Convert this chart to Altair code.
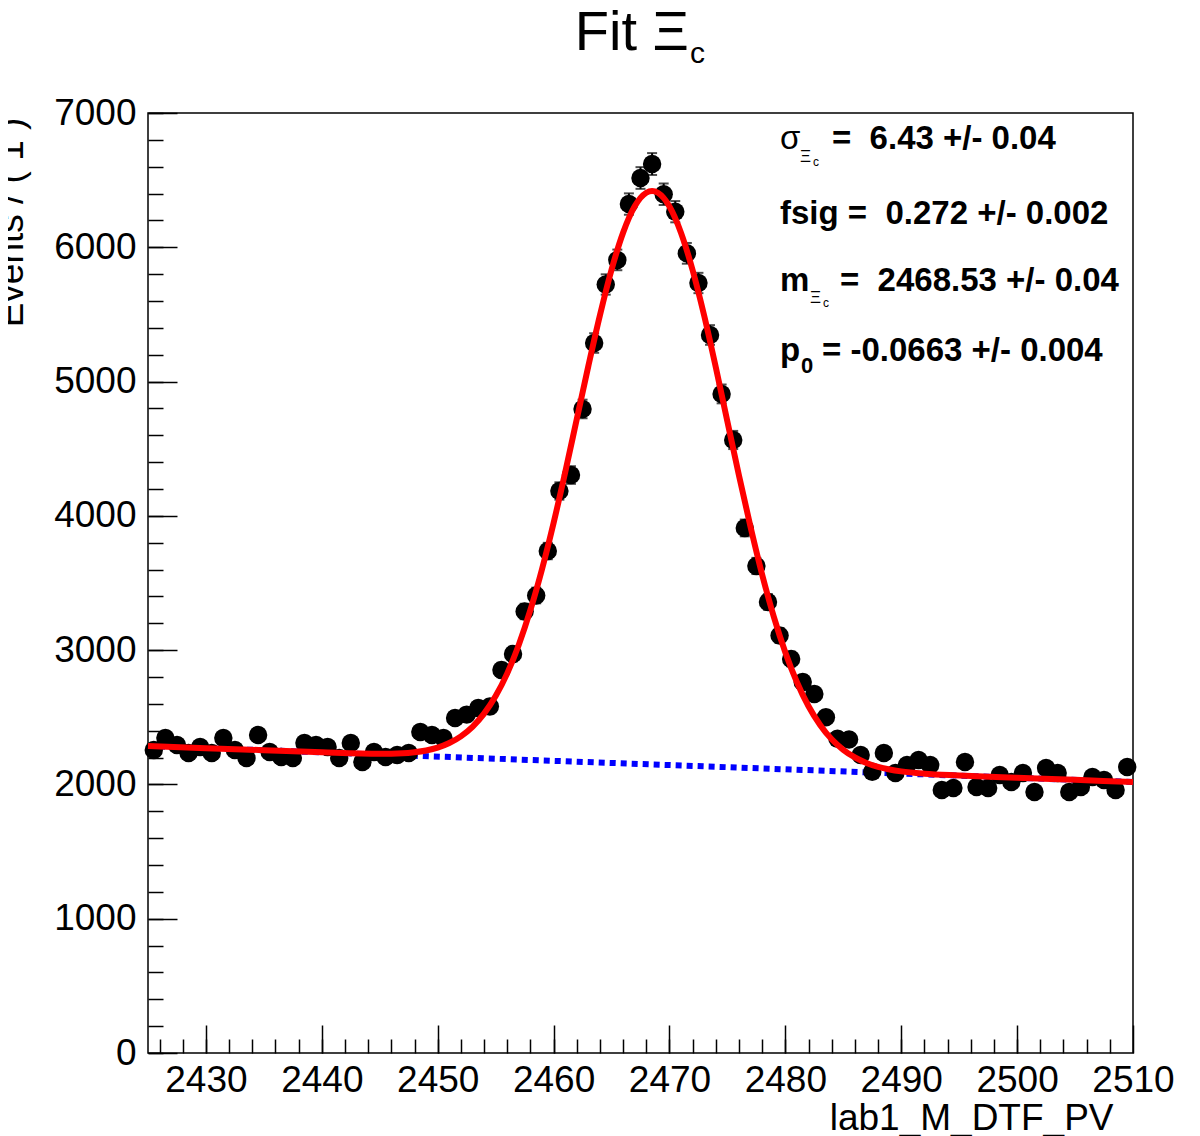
import altair as alt
import pandas as pd

FONT = "Liberation Sans"
NB = "\u00a0"  # keeps the double spaces of the original text

# ---------------- data ----------------
bin_start = 2425          # 85 bins of width 1, 2425 .. 2510
counts = [2256, 2346, 2294, 2234, 2279, 2234, 2346, 2256, 2197, 2368,
          2242, 2204, 2197, 2309, 2294, 2279, 2197, 2309, 2167, 2242,
          2204, 2219, 2234, 2391, 2368, 2346, 2495, 2520, 2569, 2580,
          2852, 2971, 3288, 3407, 3738, 4185, 4304, 4796, 5287, 5723,
          5906, 6322, 6516, 6620, 6395, 6265, 5955, 5734, 5347, 4908,
          4565, 3910, 3627, 3359, 3109, 2934, 2763, 2673, 2500, 2340,
          2335, 2219, 2095, 2234, 2085, 2145, 2182, 2145, 1959, 1973,
          2167, 1981, 1973, 2070, 2018, 2085, 1944, 2122, 2085, 1944,
          1981, 2055, 2033, 1959, 2130]
bin_centers = [bin_start + 0.5 + i for i in range(len(counts))]

# total fit curve (red)
fit_x = [2425, 2430, 2435, 2440, 2445, 2447, 2448, 2449, 2450, 2451,
         2452, 2453, 2454, 2455, 2456, 2457, 2458, 2459, 2460, 2461,
         2462, 2463, 2464, 2465, 2466, 2467, 2468, 2468.5, 2469, 2470,
         2471, 2472, 2473, 2474, 2475, 2476, 2477, 2478, 2479, 2480,
         2481, 2482, 2483, 2484, 2485, 2486, 2487, 2488, 2489, 2490,
         2492, 2495, 2500, 2505, 2510]
fit_y = [2286, 2270, 2255, 2239, 2228, 2232, 2240, 2253, 2274, 2308,
         2358, 2429, 2527, 2658, 2827, 3040, 3299, 3603, 3947, 4324,
         4720, 5116, 5494, 5833, 6109, 6305, 6406, 6419, 6406, 6304,
         6107, 5829, 5489, 5105, 4702, 4300, 3916, 3562, 3250, 2983,
         2761, 2582, 2443, 2336, 2258, 2201, 2160, 2131, 2111, 2097,
         2080, 2067, 2050, 2034, 2018]

# background component (blue dotted)
bkg_x = [2425, 2510]
bkg_y = [2286, 2018]

# axis ticks
x_major = [2430, 2440, 2450, 2460, 2470, 2480, 2490, 2500, 2510]
x_minor = list(range(2426, 2510, 2))
y_major = [0, 1000, 2000, 3000, 4000, 5000, 6000, 7000]
y_minor = list(range(0, 7001, 200))

hist = pd.DataFrame({"x": bin_centers, "n": counts})
fit = pd.DataFrame({"x": fit_x, "y": fit_y})
bkg = pd.DataFrame({"x": bkg_x, "y": bkg_y})
anno = pd.DataFrame({"k": [0]})

W, H = 985, 940
xs = alt.Scale(domain=[2425, 2510], nice=False, zero=False)
ys = alt.Scale(domain=[0, 7000], nice=False, zero=False)

# --- axes: labels outside, ticks inside (ROOT style) ---
ax_x_lab = alt.Axis(orient="bottom", values=x_major, format="d", ticks=False,
                    domain=False, grid=False, labelFontSize=37, labelPadding=9,
                    labelFlush=False, labelOverlap=False, labelColor="black",
                    labelFont=FONT, title="lab1_M_DTF_PV", titleFont=FONT,
                    titleFontSize=37, titleFontWeight="normal", titleColor="black",
                    titleAlign="right", titleX=W - 20, titleY=76,
                    titleBaseline="alphabetic")
ax_y_lab = alt.Axis(orient="left", values=y_major, format="d", ticks=False,
                    domain=False, grid=False, labelFontSize=37, labelPadding=12,
                    labelFlush=False, labelOverlap=False, labelColor="black",
                    labelFont=FONT, title="Events / ( 1 )", titleFont=FONT,
                    titleFontSize=37, titleFontWeight="normal", titleColor="black",
                    titleAngle=270, titleAlign="center", titleBaseline="alphabetic",
                    titleX=-126, titleY=109)
ax_x_maj = alt.Axis(orient="top", offset=-H, values=x_major, labels=False,
                    domain=False, grid=False, tickSize=28, tickWidth=1.5,
                    tickColor="black", title=None)
ax_y_maj = alt.Axis(orient="right", offset=-W, values=y_major, labels=False,
                    domain=False, grid=False, tickSize=29, tickWidth=1.5,
                    tickColor="black", title=None)
ax_x_min = alt.Axis(orient="top", offset=-H, values=x_minor, labels=False,
                    domain=False, grid=False, tickSize=14, tickWidth=1.5,
                    tickColor="black", title=None)
ax_y_min = alt.Axis(orient="right", offset=-W, values=y_minor, labels=False,
                    domain=False, grid=False, tickSize=15, tickWidth=1.5,
                    tickColor="black", title=None)

blue = alt.Chart(bkg).mark_line(color="#0000ff", strokeWidth=6,
                                strokeDash=[6, 5]).encode(
    x=alt.X("x:Q", scale=xs, axis=ax_x_maj),
    y=alt.Y("y:Q", scale=ys, axis=ax_y_maj),
)

points = alt.Chart(hist).mark_circle(size=340, color="black", opacity=1).encode(
    x=alt.X("x:Q", scale=xs, axis=ax_x_lab),
    y=alt.Y("n:Q", scale=ys, axis=ax_y_lab),
)

err_base = alt.Chart(hist).transform_calculate(
    lo="datum.n - sqrt(datum.n)", hi="datum.n + sqrt(datum.n)")
err = err_base.mark_rule(color="black", strokeWidth=2).encode(
    x=alt.X("x:Q", scale=xs, axis=None),
    y=alt.Y("lo:Q", scale=ys, axis=None),
    y2="hi:Q",
)
cap_hi = err_base.mark_tick(color="black", orient="horizontal", size=10,
                            thickness=2).encode(
    x=alt.X("x:Q", scale=xs, axis=None),
    y=alt.Y("hi:Q", scale=ys, axis=None),
)
cap_lo = err_base.mark_tick(color="black", orient="horizontal", size=10,
                            thickness=2).encode(
    x=alt.X("x:Q", scale=xs, axis=None),
    y=alt.Y("lo:Q", scale=ys, axis=None),
)

red = alt.Chart(fit).mark_line(color="#ff0000", strokeWidth=6,
                               interpolate="monotone").encode(
    x=alt.X("x:Q", scale=xs, axis=ax_x_min),
    y=alt.Y("y:Q", scale=ys, axis=ax_y_min),
)


def txt(s, x, y, size, weight="normal", align="left"):
    return alt.Chart(anno).mark_text(
        text=s, fontSize=size, fontWeight=weight, align=align,
        baseline="alphabetic", font=FONT, color="black").encode(
        x=alt.value(x), y=alt.value(y))


texts = [
    # chart title  "Fit Ξ_c"
    txt("Fit Ξ", 541, -63, 56, align="right"),
    txt("c", 542, -50, 30),
    # fit parameter box
    txt("σ", 632, 36, 33),
    txt("Ξ", 652, 49, 17),
    txt("c", 665, 53, 12),
    txt("=" + NB + " 6.43 +/- 0.04", 684, 36, 33, "bold"),
    txt("fsig =" + NB + " 0.272 +/- 0.002", 632, 111, 33, "bold"),
    txt("m", 632, 178, 33, "bold"),
    txt("Ξ", 662, 190, 17),
    txt("c", 675, 194, 12),
    txt("=" + NB + " 2468.53 +/- 0.04", 692, 178, 33, "bold"),
    txt("p", 632, 248, 33, "bold"),
    txt("0", 653, 260, 22, "bold"),
    txt("= -0.0663 +/- 0.004", 674, 248, 33, "bold"),
]

chart = alt.layer(blue, points, err, cap_hi, cap_lo, red, *texts).resolve_axis(
    x="independent", y="independent"
).properties(
    width=W, height=H,
    autosize=alt.AutoSizeParams(type="none"),
    padding={"left": 140, "top": 105, "right": 59, "bottom": 83},
    background="white",
).configure_view(stroke="black", strokeWidth=1.5)

chart.save("out.html", embed_options={"renderer": "svg", "actions": False})
